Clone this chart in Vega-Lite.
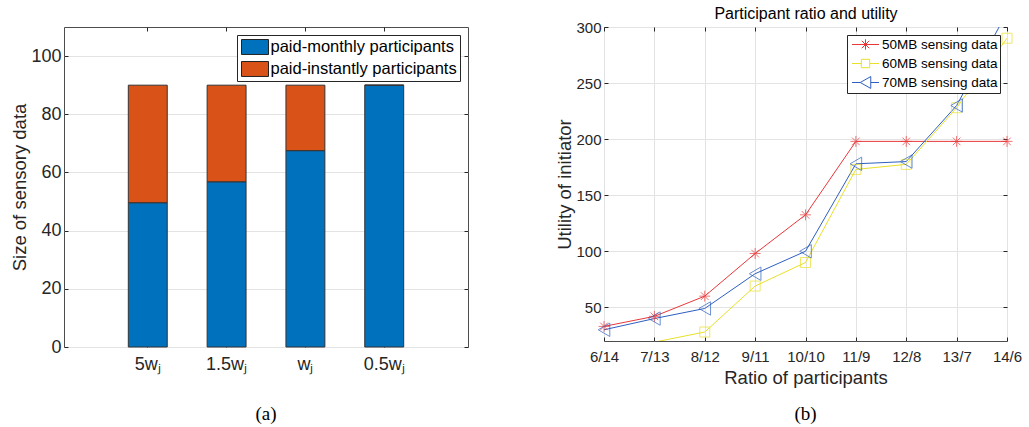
{
  "$schema": "https://vega.github.io/schema/vega-lite/v6.json",
  "background": "white",
  "padding": {"left": 10, "top": 5, "right": 5, "bottom": 0},
  "bounds": "flush",
  "spacing": 136,
  "resolve": {
    "scale": {"color": "independent", "x": "independent", "y": "independent"},
    "legend": {"color": "independent"}
  },
  "config": {
    "font": "Liberation Sans",
    "view": {"stroke": "#4d4d4d", "strokeWidth": 1},
    "axis": {
      "labelFont": "Liberation Sans",
      "titleFont": "Liberation Sans",
      "labelColor": "#262626",
      "titleColor": "#262626",
      "titleFontWeight": "normal",
      "tickColor": "#262626",
      "tickSize": -4,
      "domain": false,
      "gridColor": "#e3e3e3",
      "labelAngle": 0
    },
    "legend": {
      "labelFont": "Liberation Sans",
      "labelColor": "#000000",
      "fillColor": "white",
      "strokeColor": "#262626",
      "labelLimit": 400
    },
    "title": {"font": "Liberation Serif", "fontWeight": "normal", "color": "#000000"}
  },
  "hconcat": [
    {
      "width": 404,
      "height": 320,
      "title": {"text": "(a)", "orient": "bottom", "fontSize": 19, "offset": 32},
      "data": {
        "values": [
          {"w": "5wⱼ", "group": "paid-monthly participants", "k": 1, "size": 49.6},
          {"w": "5wⱼ", "group": "paid-instantly participants", "k": 2, "size": 40.4},
          {"w": "1.5wⱼ", "group": "paid-monthly participants", "k": 1, "size": 56.8},
          {"w": "1.5wⱼ", "group": "paid-instantly participants", "k": 2, "size": 33.2},
          {"w": "wⱼ", "group": "paid-monthly participants", "k": 1, "size": 67.5},
          {"w": "wⱼ", "group": "paid-instantly participants", "k": 2, "size": 22.5},
          {"w": "0.5wⱼ", "group": "paid-monthly participants", "k": 1, "size": 90},
          {"w": "0.5wⱼ", "group": "paid-instantly participants", "k": 2, "size": 0}
        ]
      },
      "layer": [
        {
          "mark": {"type": "bar", "stroke": "#333333", "strokeWidth": 1},
          "encoding": {
            "x": {
              "field": "w", "type": "nominal",
              "sort": ["5wⱼ", "1.5wⱼ", "wⱼ", "0.5wⱼ"],
              "scale": {"paddingInner": 0.506, "paddingOuter": 0.816},
              "axis": {"title": null, "labelFontSize": 18, "labelPadding": 12, "bandPosition": 0.5, "grid": false, "orient": "bottom"}
            },
            "y": {
              "field": "size", "type": "quantitative", "stack": "zero",
              "scale": {"domain": [0, 110], "nice": false},
              "axis": {"title": "Size of sensory data", "titleFontSize": 18.5, "titlePadding": 1, "labelFontSize": 18, "labelPadding": 7, "values": [0, 20, 40, 60, 80, 100], "grid": true, "orient": "left"}
            },
            "color": {
              "field": "group", "type": "nominal",
              "scale": {"domain": ["paid-monthly participants", "paid-instantly participants"], "range": ["#0072BD", "#D95319"]},
              "legend": {
                "title": null, "orient": "top-right", "offset": 8, "padding": 2.5,
                "labelFontSize": 16.5, "symbolType": "M-1.5,-0.83H1.5V0.83H-1.5Z",
                "symbolSize": 324, "symbolStrokeColor": "#222222", "symbolStrokeWidth": 1,
                "symbolOffset": 6, "labelOffset": 6, "rowPadding": 3
              }
            },
            "order": {"field": "k", "type": "quantitative"}
          }
        },
        {
          "mark": {"type": "point", "opacity": 0},
          "encoding": {
            "x": {
              "field": "w", "type": "nominal",
              "sort": ["5wⱼ", "1.5wⱼ", "wⱼ", "0.5wⱼ"],
              "axis": {"title": null, "labels": false, "bandPosition": 0.5, "grid": false, "orient": "top"}
            },
            "y": {
              "field": "size", "type": "quantitative",
              "axis": {"title": null, "labels": false, "values": [0, 20, 40, 60, 80, 100], "grid": false, "orient": "right"}
            }
          }
        }
      ],
      "resolve": {"axis": {"x": "independent", "y": "independent"}}
    },
    {
      "width": 403,
      "height": 314,
      "title": {"text": "(b)", "orient": "bottom", "fontSize": 19, "offset": 18},
      "data": {
        "values": [
          {"r": "6/14", "s": "50MB sensing data", "u": 33},
          {"r": "7/13", "s": "50MB sensing data", "u": 42},
          {"r": "8/12", "s": "50MB sensing data", "u": 60},
          {"r": "9/11", "s": "50MB sensing data", "u": 98},
          {"r": "10/10", "s": "50MB sensing data", "u": 132.5},
          {"r": "11/9", "s": "50MB sensing data", "u": 198},
          {"r": "12/8", "s": "50MB sensing data", "u": 198},
          {"r": "13/7", "s": "50MB sensing data", "u": 198},
          {"r": "14/6", "s": "50MB sensing data", "u": 198},
          {"r": "6/14", "s": "60MB sensing data", "u": 12},
          {"r": "7/13", "s": "60MB sensing data", "u": 19},
          {"r": "8/12", "s": "60MB sensing data", "u": 28},
          {"r": "9/11", "s": "60MB sensing data", "u": 69},
          {"r": "10/10", "s": "60MB sensing data", "u": 90},
          {"r": "11/9", "s": "60MB sensing data", "u": 173},
          {"r": "12/8", "s": "60MB sensing data", "u": 177.5},
          {"r": "13/7", "s": "60MB sensing data", "u": 228},
          {"r": "14/6", "s": "60MB sensing data", "u": 290},
          {"r": "6/14", "s": "70MB sensing data", "u": 30},
          {"r": "7/13", "s": "70MB sensing data", "u": 40},
          {"r": "8/12", "s": "70MB sensing data", "u": 49},
          {"r": "9/11", "s": "70MB sensing data", "u": 80},
          {"r": "10/10", "s": "70MB sensing data", "u": 100},
          {"r": "11/9", "s": "70MB sensing data", "u": 178},
          {"r": "12/8", "s": "70MB sensing data", "u": 180},
          {"r": "13/7", "s": "70MB sensing data", "u": 230},
          {"r": "14/6", "s": "70MB sensing data", "u": 313}
        ]
      },
      "layer": [
        {
          "mark": {"type": "line", "strokeWidth": 1, "clip": true},
          "encoding": {
            "x": {
              "field": "r", "type": "nominal",
              "sort": ["6/14", "7/13", "8/12", "9/11", "10/10", "11/9", "12/8", "13/7", "14/6"],
              "scale": {"type": "point", "padding": 0},
              "axis": {"title": "Ratio of participants", "titleFontSize": 18.5, "titlePadding": 4, "labelFontSize": 15, "labelPadding": 12, "grid": true, "orient": "bottom"}
            },
            "y": {
              "field": "u", "type": "quantitative",
              "scale": {"domain": [20, 300], "nice": false},
              "axis": {"title": "Utility of initiator", "titleFontSize": 18.5, "titlePadding": 1, "labelFontSize": 15, "labelPadding": 7, "values": [50, 100, 150, 200, 250, 300], "grid": true, "orient": "left"}
            },
            "color": {
              "field": "s", "type": "nominal",
              "scale": {"domain": ["50MB sensing data", "60MB sensing data", "70MB sensing data"], "range": ["#e8383a", "#e8e02a", "#2e5fc0"]},
              "legend": {
                "title": null, "orient": "top-right", "offset": 7.5, "padding": 2,
                "labelFontSize": 13.5, "symbolSize": 196, "symbolStrokeWidth": 1,
                "symbolOffset": 9, "labelOffset": 9, "rowPadding": 4, "symbolFillColor": "transparent",
                "encode": {
                  "symbols": {
                    "update": {
                      "shape": {"signal": "datum.value === '50MB sensing data' ? 'M-1.93,0H1.93M0,-0.75V0.75M-0.53,-0.53L0.53,0.53M-0.53,0.53L0.53,-0.53' : datum.value === '60MB sensing data' ? 'M-1.93,0H-0.6M0.6,0H1.93M-0.6,-0.6H0.6V0.6H-0.6Z' : 'M-1.93,0H-0.75M0.75,0H1.93M0.75,-0.85L-0.75,0L0.75,0.85Z'"},
                      "fill": {"value": "transparent"},
                      "strokeWidth": {"value": 1}
                    }
                  }
                }
              }
            }
          }
        },
        {
          "transform": [{"filter": "datum.s === '50MB sensing data' && datum.u >= 20 && datum.u <= 300"}],
          "mark": {"type": "point", "filled": false, "strokeWidth": 1, "shape": "M-1,0H1M0,-1V1M-0.7,-0.7L0.7,0.7M-0.7,0.7L0.7,-0.7", "size": 120},
          "encoding": {
            "x": {
              "field": "r", "type": "nominal",
              "sort": ["6/14", "7/13", "8/12", "9/11", "10/10", "11/9", "12/8", "13/7", "14/6"],
              "axis": {"title": "Participant ratio and utility", "titleFont": "Liberation Sans", "titleFontSize": 16, "titleColor": "#000000", "titlePadding": 5, "labels": false, "grid": false, "orient": "top"}
            },
            "y": {
              "field": "u", "type": "quantitative",
              "axis": {"title": null, "labels": false, "values": [50, 100, 150, 200, 250, 300], "grid": false, "orient": "right"}
            },
            "color": {"field": "s", "type": "nominal"}
          }
        },
        {
          "transform": [{"filter": "datum.s === '60MB sensing data' && datum.u >= 20 && datum.u <= 300"}],
          "mark": {"type": "point", "filled": false, "strokeWidth": 1, "shape": "square", "size": 100},
          "encoding": {
            "x": {
              "field": "r", "type": "nominal",
              "sort": ["6/14", "7/13", "8/12", "9/11", "10/10", "11/9", "12/8", "13/7", "14/6"],
              "axis": null
            },
            "y": {"field": "u", "type": "quantitative", "axis": null},
            "color": {"field": "s", "type": "nominal"}
          }
        },
        {
          "transform": [{"filter": "datum.s === '70MB sensing data' && datum.u >= 20 && datum.u <= 300"}],
          "mark": {"type": "point", "filled": false, "strokeWidth": 1, "shape": "triangle-left", "size": 180},
          "encoding": {
            "x": {
              "field": "r", "type": "nominal",
              "sort": ["6/14", "7/13", "8/12", "9/11", "10/10", "11/9", "12/8", "13/7", "14/6"],
              "axis": null
            },
            "y": {"field": "u", "type": "quantitative", "axis": null},
            "color": {"field": "s", "type": "nominal"}
          }
        }
      ],
      "resolve": {"axis": {"x": "independent", "y": "independent"}}
    }
  ]
}
